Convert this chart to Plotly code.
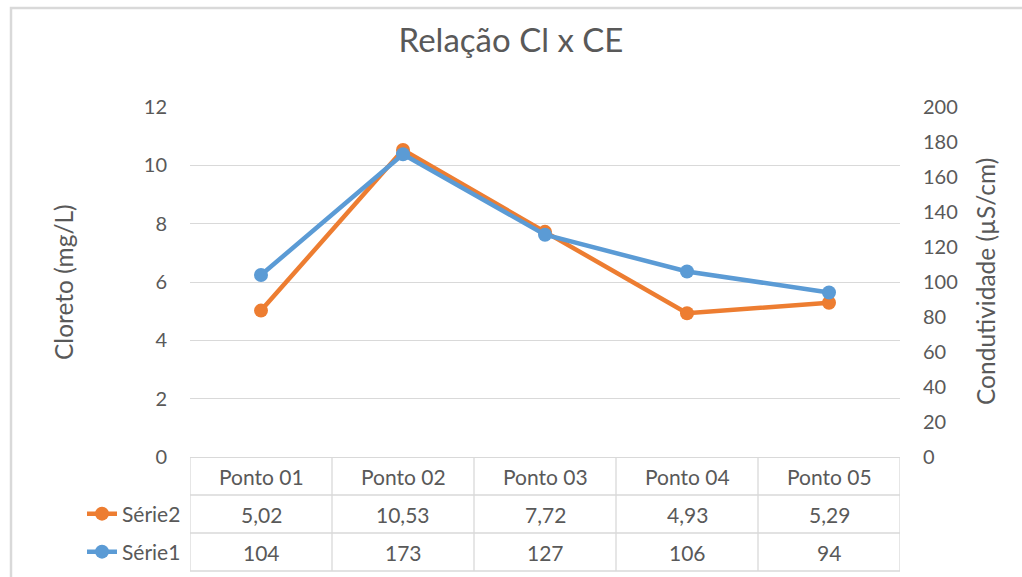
import plotly.graph_objects as go

categories = ["Ponto 01", "Ponto 02", "Ponto 03", "Ponto 04", "Ponto 05"]
serie2_cloreto = [5.02, 10.53, 7.72, 4.93, 5.29]
serie1_ce = [104, 173, 127, 106, 94]
series_names = ["Série2", "Série1"]
title_text = "Relação Cl x CE"
ytitle_left = "Cloreto (mg/L)"
ytitle_right = "Condutividade (µS/cm)"

ORANGE = "#ED7D31"
BLUE = "#5B9BD5"
TXT = "#595959"
GRID = "#D9D9D9"
FONT = "Lato"

W, H = 1022, 577
ML, MR, MT, MB = 190, 122, 107, 120
PW, PH = W - ML - MR, H - MT - MB


def px_to_py(py):
    return (H - MB - py) / PH


def px_to_px(px):
    return (px - ML) / PW


fig = go.Figure()
fig.add_trace(go.Scatter(
    x=categories, y=serie2_cloreto, name=series_names[0], mode="lines+markers",
    line=dict(color=ORANGE, width=4.5), marker=dict(color=ORANGE, size=14),
    yaxis="y", legend="legend", showlegend=True,
))
fig.add_trace(go.Scatter(
    x=categories, y=serie1_ce, name=series_names[1], mode="lines+markers",
    line=dict(color=BLUE, width=4.5), marker=dict(color=BLUE, size=14),
    yaxis="y2", legend="legend2", showlegend=True,
))

n = len(categories)
row_h = 38 / PH
y_rows = [0, -row_h, -2 * row_h, -3 * row_h]
left_col_x = -0.5 - (ML - 57) / (PW / n)

shapes = []
for i in range(n + 1):
    shapes.append(dict(type="line", xref="x", yref="paper", x0=i - 0.5, x1=i - 0.5,
                       y0=y_rows[0], y1=y_rows[3], line=dict(color=GRID, width=1.3)))
for k in (1, 2, 3):
    shapes.append(dict(type="line", xref="x", yref="paper", x0=left_col_x, x1=n - 0.5,
                       y0=y_rows[k], y1=y_rows[k], line=dict(color=GRID, width=1.3)))
shapes.append(dict(type="line", xref="x", yref="paper", x0=left_col_x, x1=left_col_x,
                   y0=y_rows[1], y1=y_rows[3], line=dict(color=GRID, width=1.3)))
shapes.append(dict(type="rect", xref="paper", yref="paper",
                   x0=px_to_px(11), x1=px_to_px(1030), y0=px_to_py(590), y1=px_to_py(8),
                   line=dict(color=GRID, width=2.5), fillcolor="rgba(0,0,0,0)", layer="below"))

cell_font = dict(family=FONT, size=21, color=TXT)
annotations = []
for i, c in enumerate(categories):
    annotations.append(dict(x=c, xref="x", yref="paper", y=(y_rows[0] + y_rows[1]) / 2,
                            yanchor="middle", xanchor="center",
                            text=c, showarrow=False, font=cell_font))
    annotations.append(dict(x=c, xref="x", yref="paper", y=(y_rows[1] + y_rows[2]) / 2,
                            yanchor="middle", xanchor="center",
                            text=f"{serie2_cloreto[i]:.2f}".replace(".", ","), showarrow=False,
                            font=cell_font))
    annotations.append(dict(x=c, xref="x", yref="paper", y=(y_rows[2] + y_rows[3]) / 2,
                            yanchor="middle", xanchor="center",
                            text=str(serie1_ce[i]), showarrow=False, font=cell_font))
annotations.append(dict(x=px_to_px(63), y=0.5, xref="paper", yref="paper", text=ytitle_left,
                        xanchor="center", yanchor="middle",
                        textangle=-90, showarrow=False, font=dict(family=FONT, size=24.5, color=TXT)))
annotations.append(dict(x=px_to_px(985), y=0.5, xref="paper", yref="paper", text=ytitle_right,
                        xanchor="center", yanchor="middle",
                        textangle=-90, showarrow=False, font=dict(family=FONT, size=24.5, color=TXT)))

legend_common = dict(xref="paper", yref="paper", xanchor="right", yanchor="middle",
                     bgcolor="rgba(0,0,0,0)", borderwidth=0,
                     font=dict(family=FONT, size=21, color=TXT))

fig.update_layout(
    width=W, height=H, showlegend=True,
    margin=dict(l=ML, r=MR, t=MT, b=MB, autoexpand=False),
    paper_bgcolor="white", plot_bgcolor="white",
    title=dict(text=title_text, x=0.5, xref="container", xanchor="center",
               y=1 - 40 / H, yref="container", yanchor="middle",
               font=dict(family=FONT, size=33, color=TXT)),
    xaxis=dict(type="category", categoryarray=categories, range=[-0.5, n - 0.5],
               showticklabels=False, ticks="", showgrid=False, zeroline=False,
               showline=True, linecolor=GRID, linewidth=1.3),
    yaxis=dict(range=[0, 12], dtick=2, showgrid=True, gridcolor=GRID, gridwidth=1.3,
               zeroline=False, showline=False, ticks="", ticklabelstandoff=22,
               tickfont=dict(family=FONT, size=20, color=TXT)),
    yaxis2=dict(range=[0, 200], dtick=20, overlaying="y", side="right", showgrid=False,
                zeroline=False, showline=False, ticks="", ticklabelstandoff=22,
                tickfont=dict(family=FONT, size=20, color=TXT)),
    legend=dict(x=px_to_px(186), y=(y_rows[1] + y_rows[2]) / 2, **legend_common),
    legend2=dict(x=px_to_px(186), y=(y_rows[2] + y_rows[3]) / 2, **legend_common),
    shapes=shapes,
    annotations=annotations,
)

fig.write_html("out.html", config={"displayModeBar": False},
               post_script="document.body.style.margin='0';document.body.style.overflow='hidden';")
